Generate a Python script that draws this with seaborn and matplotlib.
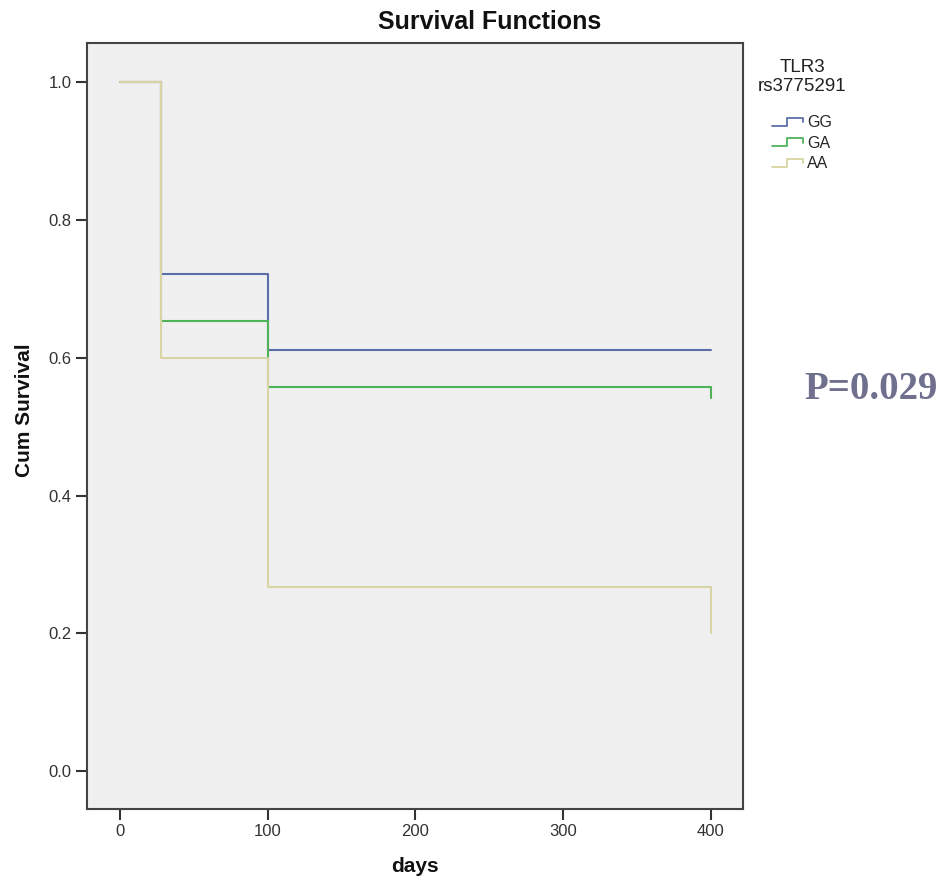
import numpy as np
import pandas as pd
import matplotlib
matplotlib.use("Agg")
import matplotlib.pyplot as plt
from matplotlib.lines import Line2D
from matplotlib.legend_handler import HandlerBase
import seaborn as sns

# Kaplan-Meier step points
genotypes = ['GG', 'GA', 'AA']
days = [0, 28, 100, 400]
surv_gg = [1.0, 0.722, 0.611, 0.611]
surv_ga = [1.0, 0.654, 0.558, 0.541]
surv_aa = [1.0, 0.600, 0.267, 0.200]
colors = ['#5b6ea9', '#4fb35a', '#d8d4a4']

df = pd.DataFrame({
    'days': days * 3,
    'surv': surv_gg + surv_ga + surv_aa,
    'genotype': np.repeat(genotypes, len(days)),
})

sns.set_theme(style='white')
plt.rcParams['font.family'] = ['Liberation Sans', 'DejaVu Sans']


class StepHandler(HandlerBase):
    # draws the little SPSS-style step icon in the legend
    def create_artists(self, legend, orig_handle, xdescent, ydescent,
                       width, height, fontsize, trans):
        xs = np.array([0, 0.48, 0.48, 1, 1]) * width - xdescent
        ys = np.array([0.15, 0.15, 0.85, 0.85, 0.45]) * height - ydescent
        ln = Line2D(xs, ys, color=orig_handle.get_color(),
                    lw=orig_handle.get_linewidth())
        ln.set_transform(trans)
        return [ln]


fig = plt.figure(figsize=(9.41, 8.81), dpi=100)
ax = fig.add_axes([0.0921, 0.0817, 0.6972, 0.8695])
ax.set_facecolor('#f0f0f0')

sns.lineplot(data=df, x='days', y='surv', hue='genotype', hue_order=genotypes,
             palette=colors, drawstyle='steps-post', estimator=None, sort=False,
             legend=False, lw=1.5, ax=ax)

ax.set_xlim(-22.5, 421.7)
ax.set_ylim(-0.055, 1.057)
ax.set_xticks([0, 100, 200, 300, 400])
ax.set_yticks([0.0, 0.2, 0.4, 0.6, 0.8, 1.0])
ax.set_yticklabels([f'{v:.1f}' for v in ax.get_yticks()])
ax.tick_params(axis='both', direction='out', length=8, width=1.5,
               color='#333333', labelcolor='#333333', labelsize=12, pad=3,
               left=True, bottom=True)
for sp in ax.spines.values():
    sp.set_color('#444444')
    sp.set_linewidth(1.5)

ax.set_xlabel('days', fontsize=15, fontweight='bold', color='#111111')
ax.set_ylabel('Cum Survival', fontsize=15, fontweight='bold', color='#111111')
ax.xaxis.set_label_coords(0.5, -0.063)
ax.yaxis.set_label_coords(-0.08, 0.52)

ax.set_title('Survival Functions', fontsize=18, fontweight='bold',
             color='#111111', x=(490 - 86.7) / 656, y=1.008)

# legend title as separate text so the gap to the entries matches
fig.text(802 / 941, 1 - 77 / 881, 'TLR3\nrs3775291', ha='center', va='center',
         fontsize=13.5, color='#222222', linespacing=1.1)

handles = [Line2D([], [], color=c, lw=1.3) for c in colors]
fig.legend(handles, genotypes,
           loc='upper center', bbox_to_anchor=(802 / 941, 1 - 104 / 881),
           frameon=False, fontsize=11.5,
           handlelength=1.95, handletextpad=0.25, labelspacing=0.35,
           borderpad=0.2, handler_map={Line2D: StepHandler()})

fig.text(871 / 941, 1 - 390 / 881, 'P=0.029', ha='center', va='center',
         family='Liberation Serif', fontweight='bold', fontsize=28,
         color='#6f6f8e')

fig.savefig('out.png', dpi=100, facecolor='white')
